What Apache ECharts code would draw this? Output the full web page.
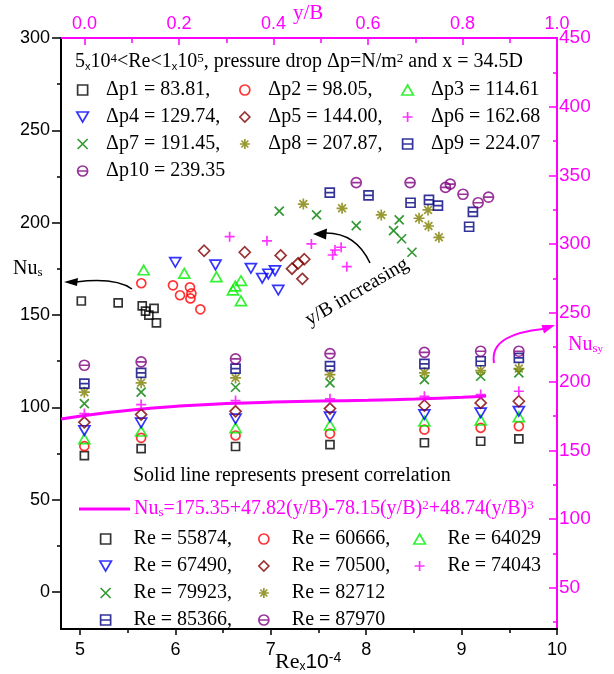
<!DOCTYPE html>
<html>
<head>
<meta charset="utf-8">
<script src="https://cdn.jsdelivr.net/npm/echarts@6/dist/echarts.min.js"></script>
<style>
  body { margin: 0; background: #fff; }
  #chart { width: 614px; height: 674px; }
</style>
</head>
<body>
<div id="chart"></div>
<script>
var SERIF = "'Liberation Serif','Times New Roman',serif";
var SANS = "'Liberation Sans',Arial,sans-serif";
var MAG = '#ff00ff';

// upper cluster: [y/B, Nus] for each pressure drop
var dp1 = [[-0.007,157.6],[0.071,156.6],[0.122,155.0],[0.129,152.1],[0.147,153.6],[0.136,150.0],[0.152,145.8]];
var dp2 = [[0.120,167.2],[0.187,166.1],[0.202,160.7],[0.223,165.0],[0.226,161.7],[0.224,159.0],[0.245,153.1]];
var dp3 = [[0.125,174.4],[0.211,172.6],[0.279,170.7],[0.314,163.5],[0.319,165.7],[0.331,168.6],[0.331,157.7]];
var dp4 = [[0.192,178.5],[0.277,177.1],[0.352,175.3],[0.376,169.9],[0.389,172.2],[0.403,174.0],[0.410,163.5]];
var dp5 = [[0.253,184.8],[0.339,184.0],[0.415,182.3],[0.439,175.1],[0.452,178.0],[0.465,180.2],[0.461,169.6]];
var dp6 = [[0.307,192.4],[0.386,190.2],[0.480,188.5],[0.525,182.5],[0.530,185.2],[0.543,186.7],[0.555,176.2]];
var dp7 = [[0.412,206.3],[0.491,204.2],[0.575,198.4],[0.666,201.5],[0.654,195.7],[0.671,191.3],[0.693,184.0]];
var dp8 = [[0.463,210.1],[0.545,207.8],[0.628,204.2],[0.708,202.4],[0.727,206.9],[0.728,198.2],[0.750,192.1]];
var dp9 = [[0.519,216.3],[0.601,214.8],[0.690,210.8],[0.729,212.4],[0.748,209.2],[0.822,205.9],[0.814,197.8]];
var dp10 = [[0.575,221.7],[0.689,221.7],[0.764,219.1],[0.774,220.9],[0.801,215.4],[0.833,210.8],[0.855,213.8]];
var dpNames = ['Δp1 = 83.81,', 'Δp2 = 98.05,', 'Δp3 = 114.61', 'Δp4 = 129.74,', 'Δp5 = 144.00,',
               'Δp6 = 162.68', 'Δp7 = 191.45,', 'Δp8 = 207.87,', 'Δp9 = 224.07', 'Δp10 = 239.35'];

// lower cluster: Re x 10^-4 columns and Nusy per Reynolds number
var reCols = [5.045, 5.64, 6.63, 7.62, 8.61, 9.20, 9.60];
var re1 = [146.2, 151.3, 152.8, 154.2, 155.5, 156.6, 158.4];
var re2 = [153.0, 159.1, 160.8, 162.2, 165.1, 166.4, 167.5];
var re3 = [158.4, 163.9, 166.4, 168.3, 171.2, 171.9, 174.4];
var re4 = [164.4, 170.0, 172.9, 174.4, 176.0, 177.3, 178.4];
var re5 = [170.4, 176.0, 178.4, 180.4, 182.6, 184.5, 185.7];
var re6 = [176.8, 183.3, 186.2, 187.5, 189.3, 190.6, 193.0];
var re7 = [184.0, 192.3, 195.9, 199.1, 201.5, 203.9, 206.4];
var re8 = [192.3, 199.1, 202.7, 205.1, 206.4, 208.0, 209.5];
var re9 = [198.6, 206.4, 209.5, 211.2, 212.9, 214.8, 217.3];
var re10 = [211.9, 214.4, 216.5, 220.4, 221.3, 222.1, 222.1];
var reNames = ['Re = 55874,', 'Re = 60666,', 'Re = 64029', 'Re = 67490,', 'Re = 70500,',
               'Re = 74043', 'Re = 79923,', 'Re = 82712', 'Re = 85366,', 'Re = 87970'];

// correlation curve: y/B and Nus
var corrYB = [-0.05, 0, 0.1, 0.2, 0.3, 0.4, 0.5, 0.6, 0.7, 0.8, 0.85];
var corrNu = [172.8, 175.4, 179.4, 182.2, 184.0, 185.1, 185.8, 186.4, 187.3, 188.6, 189.5];
var corrName = 'correlation';

// ticks
var reTicks = [5, 6, 7, 8, 9, 10];
var reMinor = [5.5, 6.5, 7.5, 8.5, 9.5];
var ybTicks = [0, 0.2, 0.4, 0.6, 0.8, 1.0];
var ybMinor = [0.1, 0.3, 0.5, 0.7, 0.9];
var nusTicks = [0, 50, 100, 150, 200, 250, 300];
var nusMinor = [25, 75, 125, 175, 225, 275];
var nusyTicks = [50, 100, 150, 200, 250, 300, 350, 400, 450];
var nusyMinor = [25, 75, 125, 175, 225, 275, 325, 375, 425];

var colors = ['#000000', '#ff0000', '#00ee00', '#0000ff', '#800000', '#ff00ff', '#008000', '#808000', '#000080', '#800080'];
var symbols = [
  'path://M0,0L10,0L10,10L0,10Z',
  'circle',
  'path://M5,0L10,8.66L0,8.66Z',
  'path://M0,0L10,0L5,8.66Z',
  'path://M5,0L10,5L5,10L0,5Z',
  'path://M5,0L5,10M0,5L10,5',
  'path://M0,0L10,10M10,0L0,10',
  'path://M5,0L5,10M0,5L10,5M1.5,1.5L8.5,8.5M8.5,1.5L1.5,8.5',
  'path://M0,0L10,0L10,10L0,10ZM0,5L10,5',
  'path://M0,5A5,5,0,1,1,10,5A5,5,0,1,1,0,5ZM0,5L10,5'
];
var sizes = [8, 9, 11, 11, 11, 10, 9, 11, 9, 10];

var upper = [dp1, dp2, dp3, dp4, dp5, dp6, dp7, dp8, dp9, dp10];
var lower = [re1, re2, re3, re4, re5, re6, re7, re8, re9, re10];

var series = [];
for (var i = 0; i < 10; i++) {
  series.push({
    name: dpNames[i], type: 'scatter', xAxisIndex: 2, yAxisIndex: 0,
    symbol: symbols[i], symbolSize: sizes[i], symbolKeepAspect: true,
    itemStyle: { color: 'rgba(0,0,0,0)', borderColor: colors[i], borderWidth: 1.7 },
    data: upper[i]
  });
}
for (var i = 0; i < 10; i++) {
  var pts = [];
  for (var j = 0; j < reCols.length; j++) pts.push([reCols[j], lower[i][j]]);
  series.push({
    name: reNames[i], type: 'scatter', xAxisIndex: 0, yAxisIndex: 2,
    symbol: symbols[i], symbolSize: sizes[i], symbolKeepAspect: true,
    itemStyle: { color: 'rgba(0,0,0,0)', borderColor: colors[i], borderWidth: 1.7 },
    data: pts
  });
}
var corrPts = [];
for (var k = 0; k < corrYB.length; k++) corrPts.push([corrYB[k], corrNu[k]]);
series.push({
  name: corrName, type: 'line', xAxisIndex: 2, yAxisIndex: 2, smooth: true,
  symbol: 'none', lineStyle: { color: MAG, width: 3 }, itemStyle: { color: MAG },
  data: corrPts, z: 1
});

function legendCol(names, left, top, w) {
  return {
    data: names, orient: 'vertical', left: left, top: top, padding: 0,
    itemWidth: w, itemHeight: 10, itemGap: 7, selectedMode: false,
    itemStyle: { borderWidth: 1.7 },
    textStyle: { fontFamily: SERIF, fontSize: 20, color: '#000' }
  };
}

function axisBase(pos, min, max, color, ticks, inside, len, labelMargin, fs, fmt) {
  return {
    type: 'value', position: pos, min: min, max: max,
    axisLine: { show: true, onZero: false, lineStyle: { color: color, width: 2 } },
    axisTick: { show: true, inside: inside, length: len, customValues: ticks, lineStyle: { color: color, width: 1.5 } },
    axisLabel: { show: true, customValues: ticks, margin: labelMargin, color: color, fontFamily: SANS, fontSize: fs, formatter: fmt },
    splitLine: { show: false }
  };
}
function axisMinor(pos, min, max, color, ticks, inside, len) {
  return {
    type: 'value', position: pos, min: min, max: max,
    axisLine: { show: false, onZero: false },
    axisTick: { show: true, inside: inside, length: len, customValues: ticks, lineStyle: { color: color, width: 1.5 } },
    axisLabel: { show: false },
    splitLine: { show: false }
  };
}

var chart = echarts.init(document.getElementById('chart'));
chart.setOption({
  animation: false,
  backgroundColor: '#fff',
  grid: { left: 61, right: 57, top: 38, bottom: 45, containLabel: false, outerBoundsMode: 'none' },
  xAxis: [
    axisBase('bottom', 4.8, 10, '#000', reTicks, false, 6, 12, 18, function (v) { return v; }),
    axisMinor('bottom', 4.8, 10, '#000', reMinor, false, 4),
    axisBase('top', -0.05, 1.0, MAG, ybTicks, true, 7, 5, 18, function (v) { return v.toFixed(1); }),
    axisMinor('top', -0.05, 1.0, MAG, ybMinor, true, 5)
  ],
  yAxis: [
    axisBase('left', -20, 300, '#000', nusTicks, false, 9, 11, 18, function (v) { return v; }),
    axisMinor('left', -20, 300, '#000', nusMinor, false, 4),
    axisBase('right', 20, 450, MAG, nusyTicks, true, 8, 2, 19, function (v) { return v; }),
    axisMinor('right', 20, 450, MAG, nusyMinor, true, 4)
  ],
  legend: [
    legendCol([dpNames[0], dpNames[3], dpNames[6], dpNames[9]], 76, 80, 37),
    legendCol([dpNames[1], dpNames[4], dpNames[7]], 239, 80, 37),
    legendCol([dpNames[2], dpNames[5], dpNames[8]], 401, 80, 37),
    legendCol([reNames[0], reNames[3], reNames[6], reNames[8]], 99, 529, 46),
    legendCol([reNames[1], reNames[4], reNames[7], reNames[9]], 258, 529, 46),
    legendCol([reNames[2], reNames[5]], 413, 529, 46),
    {
      data: [{ name: corrName, icon: 'none' }], left: 78, top: 499, padding: 0, itemWidth: 51, itemHeight: 12,
      selectedMode: false,
      formatter: function () {
        return '{n|Nu}{sub|s}{n|=175.35+47.82(y/B)-78.15(y/B)}{sup|2}{n|+48.74(y/B)}{sup|3}';
      },
      textStyle: {
        fontFamily: SERIF, fontSize: 20, color: MAG,
        rich: {
          n: { fontFamily: SERIF, fontSize: 20, color: MAG },
          sub: { fontFamily: SERIF, fontSize: 13, color: MAG, verticalAlign: 'bottom' },
          sup: { fontFamily: SERIF, fontSize: 13, color: MAG, verticalAlign: 'top' }
        }
      }
    }
  ],
  graphic: [
    // line sample for the correlation legend
    { type: 'line', shape: { x1: 79, y1: 509, x2: 130, y2: 509 }, style: { stroke: MAG, lineWidth: 3 } },
    {
      type: 'text', x: 75, y: 62,
      style: {
        text: '{n|5}{x|x}{n|10}{sup|4}{n|<Re<1}{x|x}{n|10}{sup|5}{n|, pressure drop Δp=N/m}{sup|2}{n| and x = 34.5D}',
        verticalAlign: 'middle', textVerticalAlign: 'middle',
        rich: {
          n: { fontFamily: SERIF, fontSize: 20, fill: '#000' },
          x: { fontFamily: SANS, fontSize: 11, fill: '#000', verticalAlign: 'bottom' },
          sup: { fontFamily: SERIF, fontSize: 13, fill: '#000', verticalAlign: 'top' }
        }
      }
    },
    {
      type: 'text', x: 133, y: 476,
      style: { text: 'Solid line represents present correlation', font: '20px ' + SERIF, fill: '#000',
               verticalAlign: 'middle', textVerticalAlign: 'middle' }
    },
    {
      type: 'text', x: 13, y: 269,
      style: {
        text: '{n|Nu}{s|s}', verticalAlign: 'middle', textVerticalAlign: 'middle',
        rich: {
          n: { fontFamily: SERIF, fontSize: 20, fill: '#000' },
          s: { fontFamily: SERIF, fontSize: 13, fill: '#000', verticalAlign: 'bottom' }
        }
      }
    },
    {
      type: 'text', x: 293, y: 13,
      style: { text: 'y/B', font: '21px ' + SERIF, fill: MAG, verticalAlign: 'middle', textVerticalAlign: 'middle' }
    },
    {
      type: 'text', x: 275, y: 662,
      style: {
        text: '{n|Re}{x|x}{t|10}{sup|-4}', verticalAlign: 'middle', textVerticalAlign: 'middle',
        rich: {
          n: { fontFamily: SERIF, fontSize: 22, fill: '#000' },
          x: { fontFamily: SANS, fontSize: 12, fill: '#000', verticalAlign: 'bottom' },
          t: { fontFamily: SANS, fontSize: 21, fill: '#000' },
          sup: { fontFamily: SANS, fontSize: 14, fill: '#000', verticalAlign: 'top' }
        }
      }
    },
    {
      type: 'text', x: 568, y: 345,
      style: {
        text: '{n|Nu}{s|s}{y|y}', verticalAlign: 'middle', textVerticalAlign: 'middle',
        rich: {
          n: { fontFamily: SERIF, fontSize: 20, fill: MAG },
          s: { fontFamily: SERIF, fontSize: 13, fill: MAG, verticalAlign: 'bottom' },
          y: { fontFamily: SERIF, fontSize: 11, fill: MAG, verticalAlign: 'bottom' }
        }
      }
    },
    {
      type: 'text', x: 357, y: 292, rotation: 0.53,
      style: { text: 'y/B increasing', font: '20px ' + SERIF, fill: '#000',
               align: 'center', textAlign: 'center', verticalAlign: 'middle', textVerticalAlign: 'middle' }
    },
    // arrow to Nus axis
    { type: 'bezierCurve', shape: { x1: 132, y1: 289, cpx1: 115, cpy1: 277, x2: 76, y2: 282 },
      style: { stroke: '#000', lineWidth: 1.5, fill: null } },
    { type: 'polygon', shape: { points: [[64, 282], [78, 278], [77, 286]] }, style: { fill: '#000' } },
    // y/B increasing arrow
    { type: 'bezierCurve', shape: { x1: 370, y1: 263, cpx1: 356, cpy1: 233, x2: 326, y2: 233 },
      style: { stroke: '#000', lineWidth: 1.5, fill: null } },
    { type: 'polygon', shape: { points: [[313, 234], [327, 228.5], [326, 239.5]] }, style: { fill: '#000' } },
    // arrow to Nusy axis
    { type: 'bezierCurve', shape: { x1: 494, y1: 363, cpx1: 490, cpy1: 340, cpx2: 515, cpy2: 332, x2: 543, y2: 329 },
      style: { stroke: MAG, lineWidth: 2, fill: null } },
    { type: 'polygon', shape: { points: [[555, 325], [541.5, 325], [544, 333.5]] }, style: { fill: MAG } }
  ],
  series: series
});
</script>
</body>
</html>
